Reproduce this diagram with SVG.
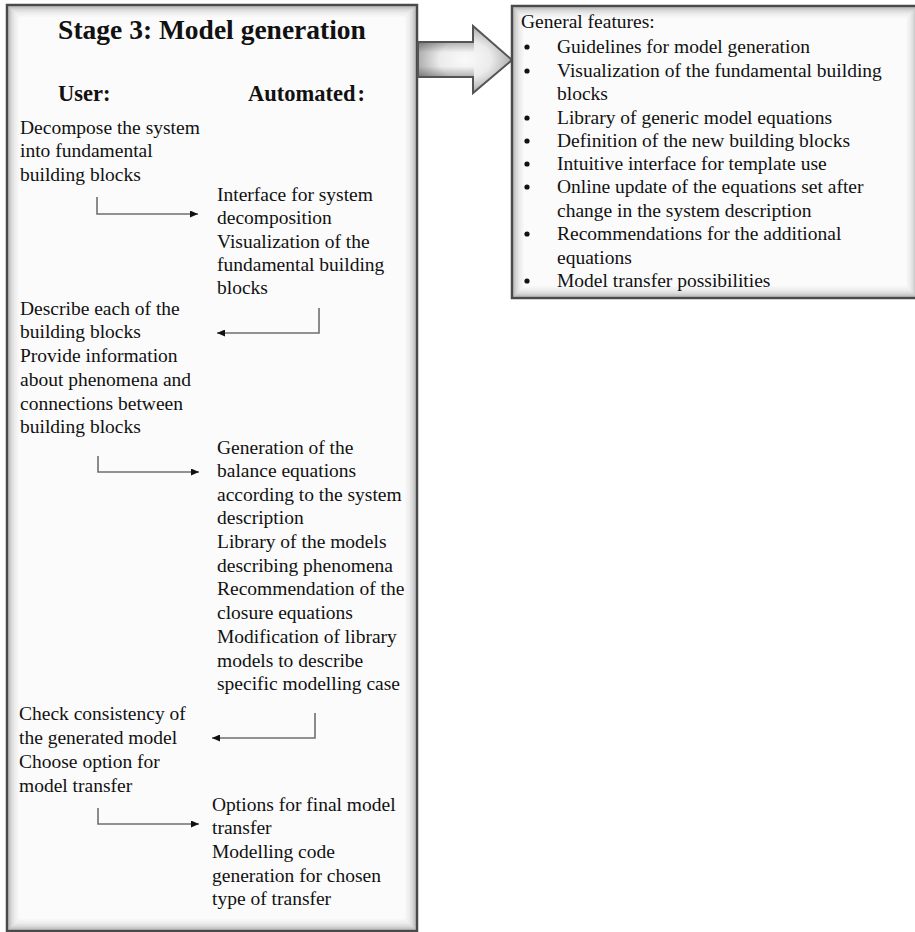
<svg xmlns="http://www.w3.org/2000/svg" width="915" height="932" viewBox="0 0 915 932">
  <style>
    .panel { fill: #fbfbfb; stroke: #4a4a4a; stroke-width: 2.5; }
    .glow { fill: none; stroke: #000; }
    .t { font-family: "Liberation Serif", "Times New Roman", serif; font-size: 19.5px; fill: #111; }
    .h { font-family: "Liberation Serif", "Times New Roman", serif; font-weight: bold; fill: #111; }
    .link { fill: none; stroke: #6f6f6f; stroke-width: 1.6; }
  </style>
  <defs>
    <radialGradient id="arrowFill" cx="0.5" cy="0.5" r="0.55">
      <stop offset="0" stop-color="#fafafa"/>
      <stop offset="0.5" stop-color="#ebebeb"/>
      <stop offset="1" stop-color="#a0a0a0"/>
    </radialGradient>
    <linearGradient id="shaftShade" x1="0" y1="0" x2="0" y2="1">
      <stop offset="0" stop-color="#000" stop-opacity="0.25"/>
      <stop offset="0.3" stop-color="#000" stop-opacity="0"/>
      <stop offset="0.7" stop-color="#000" stop-opacity="0"/>
      <stop offset="1" stop-color="#000" stop-opacity="0.25"/>
    </linearGradient>
    <marker id="tip" viewBox="0 0 8 7" refX="8" refY="3.5" markerWidth="8" markerHeight="7" markerUnits="userSpaceOnUse" orient="auto">
      <path d="M0,0 L8,3.5 L0,7 z" fill="#111"/>
    </marker>
  </defs>

  <rect width="915" height="932" fill="#ffffff"/>

  <!-- stage panel -->
  <g id="stage3">
    <rect class="panel" x="7" y="5" width="410" height="926"/>
    <!-- shaded inner rim -->
    <g class="glow" stroke-width="1.5">
      <rect x="9" y="7" width="406" height="922" stroke-opacity="0.24"/>
      <rect x="10.5" y="8.5" width="403" height="919" stroke-opacity="0.18"/>
      <rect x="12" y="10" width="400" height="916" stroke-opacity="0.13"/>
      <rect x="13.5" y="11.5" width="397" height="913" stroke-opacity="0.09"/>
      <rect x="15" y="13" width="394" height="910" stroke-opacity="0.06"/>
      <rect x="16.5" y="14.5" width="391" height="907" stroke-opacity="0.04"/>
      <rect x="18" y="16" width="388" height="904" stroke-opacity="0.025"/>
    </g>
    <text class="h" x="212" y="39" font-size="27.5" text-anchor="middle">Stage 3: Model generation</text>
    <text class="h" x="58" y="101" font-size="22.5">User:</text>
    <text class="h" x="248" y="101" font-size="22.5">Automated<tspan dx="2">:</tspan></text>
  </g>

  <!-- block arrow to the feature list -->
  <g id="bigArrow">
    <path d="M418,42 H473 V26 L512,60 L473,93 V77 H418 Z" fill="url(#arrowFill)"/>
    <rect x="418" y="42" width="56" height="35" fill="url(#shaftShade)"/>
    <path d="M418,42 H473 V26 L512,60 L473,93 V77 H418 Z" fill="none" stroke="#555" stroke-width="2"/>
  </g>

  <!-- feature list panel -->
  <g id="features">
    <rect class="panel" x="512" y="6" width="406" height="292"/>
    <g class="glow" stroke-width="1.5">
      <rect x="514" y="8" width="402" height="288" stroke-opacity="0.24"/>
      <rect x="515.5" y="9.5" width="399" height="285" stroke-opacity="0.18"/>
      <rect x="517" y="11" width="396" height="282" stroke-opacity="0.13"/>
      <rect x="518.5" y="12.5" width="393" height="279" stroke-opacity="0.09"/>
      <rect x="520" y="14" width="390" height="276" stroke-opacity="0.06"/>
      <rect x="521.5" y="15.5" width="387" height="273" stroke-opacity="0.04"/>
      <rect x="523" y="17" width="384" height="270" stroke-opacity="0.025"/>
    </g>
    <text class="t" x="521" y="28">General features:</text>
    <g fill="#111">
      <circle cx="527" cy="47" r="2.6"/>
      <circle cx="527" cy="71" r="2.6"/>
      <circle cx="527" cy="118" r="2.6"/>
      <circle cx="527" cy="141" r="2.6"/>
      <circle cx="527" cy="164" r="2.6"/>
      <circle cx="527" cy="187" r="2.6"/>
      <circle cx="527" cy="234" r="2.6"/>
      <circle cx="527" cy="281" r="2.6"/>
    </g>
    <text class="t">
      <tspan x="557" y="53">Guidelines for model generation</tspan>
      <tspan x="557" y="77">Visualization of the fundamental building</tspan>
      <tspan x="557" y="100">blocks</tspan>
      <tspan x="557" y="124">Library of generic model equations</tspan>
      <tspan x="557" y="147">Definition of the new building blocks</tspan>
      <tspan x="557" y="170">Intuitive interface for template use</tspan>
      <tspan x="557" y="193">Online update of the equations set after</tspan>
      <tspan x="557" y="217">change in the system description</tspan>
      <tspan x="557" y="240">Recommendations for the additional</tspan>
      <tspan x="557" y="264">equations</tspan>
      <tspan x="557" y="287">Model transfer possibilities</tspan>
    </text>
  </g>

  <!-- user steps -->
  <g id="user1">
    <text class="t">
      <tspan x="20" y="134">Decompose the system</tspan>
      <tspan x="20" y="157">into fundamental</tspan>
      <tspan x="20" y="181">building blocks</tspan>
    </text>
  </g>
  <g id="user2">
    <text class="t">
      <tspan x="20" y="315">Describe each of the</tspan>
      <tspan x="20" y="338">building blocks</tspan>
      <tspan x="20" y="362">Provide information</tspan>
      <tspan x="20" y="386">about phenomena and</tspan>
      <tspan x="20" y="410">connections between</tspan>
      <tspan x="20" y="433">building blocks</tspan>
    </text>
  </g>
  <g id="user3">
    <text class="t">
      <tspan x="19" y="720">Check consistency of</tspan>
      <tspan x="19" y="744">the generated model</tspan>
      <tspan x="19" y="768">Choose option for</tspan>
      <tspan x="19" y="792">model transfer</tspan>
    </text>
  </g>

  <!-- automated steps -->
  <g id="auto1">
    <text class="t">
      <tspan x="217" y="201">Interface for system</tspan>
      <tspan x="217" y="224">decomposition</tspan>
      <tspan x="217" y="248">Visualization of the</tspan>
      <tspan x="217" y="271">fundamental building</tspan>
      <tspan x="217" y="294">blocks</tspan>
    </text>
  </g>
  <g id="auto2">
    <text class="t">
      <tspan x="217" y="454">Generation of the</tspan>
      <tspan x="217" y="477">balance equations</tspan>
      <tspan x="217" y="501">according to the system</tspan>
      <tspan x="217" y="524">description</tspan>
      <tspan x="217" y="548">Library of the models</tspan>
      <tspan x="217" y="572">describing phenomena</tspan>
      <tspan x="217" y="595">Recommendation of the</tspan>
      <tspan x="217" y="619">closure equations</tspan>
      <tspan x="217" y="643">Modification of library</tspan>
      <tspan x="217" y="667">models to describe</tspan>
      <tspan x="217" y="690">specific modelling case</tspan>
    </text>
  </g>
  <g id="auto3">
    <text class="t">
      <tspan x="212" y="811">Options for final model</tspan>
      <tspan x="212" y="834">transfer</tspan>
      <tspan x="212" y="858">Modelling code</tspan>
      <tspan x="212" y="882">generation for chosen</tspan>
      <tspan x="212" y="905">type of transfer</tspan>
    </text>
  </g>

  <!-- elbow connectors between the two columns -->
  <g id="connectors">
    <path class="link" d="M97,197 V214 H198" marker-end="url(#tip)"/>
    <path class="link" d="M319,308 V333 H217" marker-end="url(#tip)"/>
    <path class="link" d="M98,456 V472 H199" marker-end="url(#tip)"/>
    <path class="link" d="M315,713 V738 H212" marker-end="url(#tip)"/>
    <path class="link" d="M98,808 V824 H199" marker-end="url(#tip)"/>
  </g>
</svg>
